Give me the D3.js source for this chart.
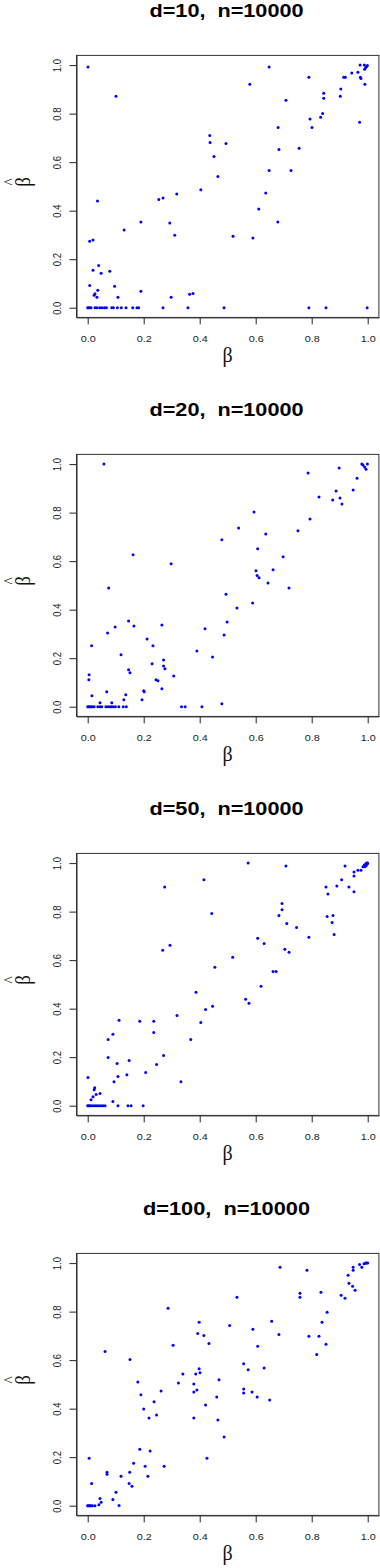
<!DOCTYPE html>
<html>
<head>
<meta charset="utf-8">
<script src="https://cdn.jsdelivr.net/npm/d3@7"></script>
<style>
  body { margin: 0; background: #fff; }
</style>
</head>
<body>
<div id="chart"></div>
<script>
// panel titles and axis ticks
var titles = ['d=10,  n=10000', 'd=20,  n=10000', 'd=50,  n=10000', 'd=100,  n=10000'];
var tickVals = [0, 0.2, 0.4, 0.6, 0.8, 1.0];

// [beta, betaHat]
var pts_d10 = [
  [0.001,0.992],[0.101,0.872],[0.579,0.921],[0.648,0.992],[0.790,0.950],[0.708,0.855],
  [0.973,1.0],[0.988,1.0],[0.996,0.994],[0.989,0.983],[0.999,0.998],[0.993,0.990],
  [0.965,0.971],[0.943,0.967],[0.920,0.950],[0.914,0.950],[0.974,0.950],[0.976,0.945],[0.990,0.921],
  [0.904,0.901],[0.902,0.872],[0.843,0.884],[0.843,0.863],[0.971,0.764],[0.839,0.801],[0.832,0.785],
  [0.794,0.778],[0.801,0.743],[0.680,0.743],[0.755,0.657],[0.683,0.652],[0.436,0.710],[0.437,0.681],
  [0.494,0.677],[0.451,0.623],[0.465,0.541],[0.648,0.566],[0.726,0.566],
  [0.254,0.446],[0.269,0.452],[0.318,0.469],[0.404,0.486],[0.636,0.473],[0.611,0.407],[0.679,0.353],
  [0.519,0.294],[0.590,0.287],[0.293,0.349],[0.311,0.299],[0.190,0.353],[0.130,0.320],[0.035,0.440],
  [0.007,0.274],[0.019,0.279],[0.039,0.174],[0.019,0.154],[0.079,0.150],[0.048,0.142],[0.007,0.092],
  [0.096,0.088],[0.036,0.072],[0.026,0.058],[0.023,0.051],[0.033,0.043],[0.108,0.043],[0.190,0.068],
  [0.298,0.043],[0.364,0.055],[0.376,0.059],
  [0.0,0],[0.002,0],[0.007,0],[0.012,0],[0.026,0],[0.033,0],[0.043,0],[0.051,0],[0.060,0],[0.067,0],
  [0.086,0],[0.092,0],[0.106,0],[0.120,0],[0.137,0],[0.161,0],[0.176,0],[0.182,0],[0.269,0],[0.358,0],
  [0.487,0],[0.790,0],[0.851,0],[0.998,0]
];
var pts_d20 = [
  [0.058,1.0],[0.162,0.626],[0.298,0.589],[0.479,0.688],[0.539,0.737],[0.594,0.803],[0.636,0.712],
  [0.607,0.651],[0.601,0.560],[0.605,0.541],[0.612,0.532],[0.662,0.564],[0.698,0.618],[0.751,0.725],
  [0.787,0.963],[0.794,0.774],[0.826,0.864],[0.875,0.852],[0.887,0.889],[0.901,0.860],[0.908,0.836],
  [0.898,0.984],[0.948,0.893],[0.962,0.942],[0.979,1.0],[0.983,0.996],[0.989,0.988],[0.994,0.979],[0.999,1.0],
  [0.075,0.489],[0.644,0.510],[0.719,0.489],[0.494,0.464],[0.589,0.427],[0.533,0.407],[0.498,0.349],
  [0.419,0.321],[0.487,0.296],[0.390,0.230],[0.446,0.205],[0.307,0.127],[0.265,0.337],[0.212,0.279],
  [0.233,0.251],[0.271,0.193],[0.230,0.177],[0.271,0.168],[0.276,0.156],[0.244,0.111],[0.251,0.107],
  [0.265,0.074],[0.146,0.353],[0.165,0.333],[0.098,0.329],[0.071,0.304],[0.014,0.251],[0.119,0.214],
  [0.146,0.152],[0.151,0.140],[0.005,0.132],[0.004,0.111],[0.068,0.062],[0.200,0.066],[0.202,0.062],
  [0.015,0.045],[0.136,0.049],[0.129,0.029],[0.194,0.029],[0.044,0.016],[0.086,0.016],[0.479,0.012],
  [0.0,0],[0.002,0],[0.007,0],[0.012,0],[0.017,0],[0.023,0],[0.036,0],[0.044,0],[0.050,0],[0.065,0],
  [0.073,0],[0.080,0],[0.086,0],[0.092,0],[0.099,0],[0.111,0],[0.127,0],[0.138,0],[0.335,0],[0.348,0],[0.408,0]
];
var pts_d50 = [
  [0.275,0.902],[0.415,0.931],[0.573,1.0],[0.443,0.792],[0.268,0.641],[0.294,0.661],[0.454,0.571],
  [0.518,0.612],[0.607,0.690],[0.630,0.669],[0.708,0.988],[0.694,0.833],[0.694,0.808],[0.683,0.784],
  [0.711,0.751],[0.746,0.735],[0.704,0.645],[0.719,0.633],[0.790,0.694],[0.851,0.902],[0.858,0.873],
  [0.855,0.780],[0.876,0.784],[0.873,0.755],[0.880,0.706],[0.890,0.906],[0.907,0.931],[0.919,0.988],
  [0.933,0.902],[0.951,0.882],[0.951,0.947],[0.951,0.963],[0.965,0.971],[0.976,0.971],
  [0.983,0.985],[0.988,0.992],[0.993,0.996],[0.996,1.0],[0.999,1.0],[0.990,0.985],[0.995,0.990],[1.0,0.998],
  [0.662,0.553],[0.673,0.553],[0.619,0.492],[0.564,0.439],[0.576,0.422],[0.387,0.468],[0.446,0.410],
  [0.421,0.397],[0.404,0.343],[0.319,0.372],[0.368,0.273],[0.333,0.099],[0.271,0.207],[0.246,0.170],
  [0.207,0.137],[0.236,0.348],[0.236,0.302],[0.186,0.348],[0.112,0.352],[0.090,0.294],[0.073,0.273],
  [0.073,0.199],[0.105,0.174],[0.148,0.186],[0.140,0.128],[0.108,0.120],[0.094,0.099],[0.001,0.116],
  [0.025,0.074],[0.023,0.066],[0.019,0.037],[0.012,0.025],[0.030,0.046],[0.044,0.050],[0.090,0.017],
  [0.0,0],[0.002,0],[0.007,0],[0.012,0],[0.019,0],[0.026,0],[0.033,0],[0.040,0],[0.048,0],[0.055,0],
  [0.062,0],[0.108,0],[0.144,0],[0.155,0],[0.198,0]
];
var pts_d100 = [
  [0.062,0.636],[0.151,0.603],[0.287,0.814],[0.305,0.661],[0.533,0.859],[0.398,0.756],[0.393,0.710],
  [0.415,0.702],[0.433,0.669],[0.507,0.743],[0.590,0.727],[0.607,0.657],[0.657,0.760],[0.683,0.706],
  [0.687,0.983],[0.783,0.971],[0.758,0.876],[0.758,0.859],[0.833,0.880],[0.855,0.797],[0.837,0.756],
  [0.790,0.698],[0.826,0.698],[0.851,0.665],[0.818,0.623],[0.905,0.868],[0.919,0.855],[0.930,0.950],
  [0.933,0.917],[0.946,0.905],[0.955,0.888],[0.948,0.983],[0.948,0.971],[0.971,0.994],[0.979,0.983],
  [0.987,0.997],[0.992,1.0],[0.996,1.0],[1.0,1.0],
  [0.557,0.585],[0.630,0.568],[0.398,0.564],[0.573,0.560],[0.340,0.543],[0.386,0.543],[0.401,0.548],
  [0.324,0.506],[0.179,0.510],[0.379,0.502],[0.469,0.519],[0.190,0.457],[0.262,0.473],[0.379,0.469],
  [0.390,0.477],[0.557,0.481],[0.557,0.465],[0.587,0.469],[0.605,0.448],[0.650,0.436],[0.461,0.448],
  [0.421,0.415],[0.237,0.428],[0.200,0.399],[0.246,0.374],[0.219,0.361],[0.379,0.361],[0.465,0.353],
  [0.487,0.283],[0.426,0.196],[0.186,0.233],[0.223,0.225],[0.005,0.196],[0.164,0.175],[0.205,0.163],
  [0.273,0.163],[0.069,0.138],[0.069,0.130],[0.150,0.138],[0.119,0.121],[0.215,0.121],[0.014,0.092],
  [0.148,0.092],[0.158,0.080],[0.101,0.055],[0.090,0.026],[0.044,0.030],[0.048,0.014],[0.040,0.004],
  [0.112,0.001],
  [0.0,0],[0.001,0],[0.005,0],[0.008,0],[0.012,0],[0.017,0],[0.026,0]
];

var panels = [pts_d10, pts_d20, pts_d50, pts_d100];
var panelTop = [0, 399, 798, 1198];
var titleWidth = [154, 154, 154, 167];

var svg = d3.select('#chart').append('svg')
    .attr('width', 380)
    .attr('height', 1568);

// R style: data range [0,1] padded by 4% on each side
var xScale = d3.scaleLinear().domain([-0.04, 1.04]).range([76.5, 378.9]);
var yScale = d3.scaleLinear().domain([-0.04, 1.04]).range([317.4, 55.4]);

var fmt = d3.format('.1f');
var xAxis = d3.axisBottom(xScale).tickValues(tickVals).tickFormat(fmt).tickSize(7).tickSizeOuter(0);
var yAxis = d3.axisLeft(yScale).tickValues(tickVals).tickFormat(fmt).tickSize(7).tickSizeOuter(0);

panels.forEach(function(pts, i) {
    var g = svg.append('g').attr('transform', 'translate(0,' + panelTop[i] + ')');

    // title
    g.append('text')
        .attr('x', 226.5)
        .attr('y', 16.7)
        .attr('text-anchor', 'middle')
        .attr('textLength', titleWidth[i])
        .attr('lengthAdjust', 'spacingAndGlyphs')
        .style('white-space', 'pre')
        .style('font-family', '"Liberation Sans", Arial, sans-serif')
        .style('font-weight', 'bold')
        .style('font-size', '18.6px')
        .text(titles[i]);

    // points
    g.append('g').selectAll('circle')
        .data(pts)
        .join('circle')
        .attr('cx', d => xScale(d[0]))
        .attr('cy', d => yScale(d[1]))
        .attr('r', 1.5)
        .style('fill', '#0000ff');

    // axes
    var gx = g.append('g')
        .attr('transform', 'translate(0,' + yScale.range()[0] + ')')
        .style('color', '#222')
        .call(xAxis);
    gx.selectAll('text')
        .attr('y', 0)
        .attr('dy', 0)
        .attr('transform', 'translate(0,25) scale(1.08,0.95)')
        .style('font-family', '"Liberation Sans", Arial, sans-serif')
        .style('font-size', '10px')
        .style('fill', '#222');

    var gy = g.append('g')
        .attr('transform', 'translate(' + xScale.range()[0] + ',0)')
        .style('color', '#222')
        .call(yAxis);
    gy.selectAll('text')
        .attr('x', 0)
        .attr('dy', 0)
        .attr('text-anchor', 'middle')
        .attr('transform', 'translate(-15.5,0) rotate(-90) scale(0.95,1.08)')
        .style('font-family', '"Liberation Sans", Arial, sans-serif')
        .style('font-size', '10px')
        .style('fill', '#222');

    // box
    g.append('rect')
        .attr('x', xScale.range()[0])
        .attr('y', yScale.range()[1])
        .attr('width', xScale.range()[1] - xScale.range()[0])
        .attr('height', yScale.range()[0] - yScale.range()[1])
        .style('fill', 'none')
        .style('stroke', '#333')
        .style('stroke-width', 1);

    // axis labels
    g.append('text')
        .attr('x', 227.5)
        .attr('y', 362)
        .attr('text-anchor', 'middle')
        .style('font-family', '"Liberation Serif", "DejaVu Serif", serif')
        .style('font-size', '20px')
        .style('fill', '#111')
        .text('β');

    var yl = g.append('g')
        .attr('transform', 'translate(30,182) rotate(-90) scale(0.95,1.08)')
        .style('font-family', '"Liberation Serif", "DejaVu Serif", serif')
        .style('fill', '#111');
    yl.append('text').attr('text-anchor', 'middle').style('font-size', '20px').text('β');
    yl.append('text').attr('text-anchor', 'middle').attr('y', -14).style('font-size', '16px').text('^');
});
</script>
</body>
</html>
